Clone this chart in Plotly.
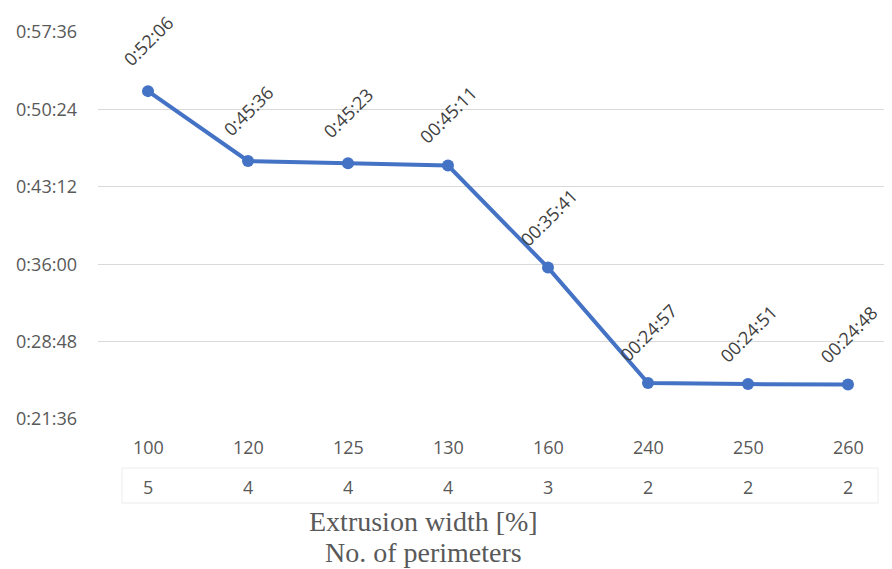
import plotly.graph_objects as go

extrusion_width = ["100", "120", "125", "130", "160", "240", "250", "260"]
perimeters = ["5", "4", "4", "4", "3", "2", "2", "2"]
time_labels = ["0:52:06", "0:45:36", "0:45:23", "00:45:11", "00:35:41", "00:24:57", "00:24:51", "00:24:48"]
y_tick_labels = ["0:21:36", "0:28:48", "0:36:00", "0:43:12", "0:50:24", "0:57:36"]


def to_sec(s):
    h, m, sec = [int(p) for p in s.split(":")]
    return h * 3600 + m * 60 + sec


y_vals = [to_sec(t) for t in time_labels]
y_ticks = [to_sec(t) for t in y_tick_labels]
x_idx = list(range(len(extrusion_width)))

# page body adds an 8px offset; compensate
O = 8
W, H = 892 - O, 569 - O
ml, mr, mt, mb = 98 - O, 0, 32 - O, 150
ph = H - mt - mb

GREY = "#595959"
FONT = "Open Sans"

fig = go.Figure()
fig.add_trace(go.Scatter(
    x=x_idx, y=y_vals, mode="lines+markers",
    line=dict(color="#4472C4", width=4),
    marker=dict(color="#4472C4", size=12),
    hoverinfo="skip", showlegend=False,
))

annotations = []
for i, t in enumerate(time_labels):
    annotations.append(dict(
        x=i, y=y_vals[i], xref="x", yref="y", text=t, showarrow=False,
        textangle=-45, yshift=50, font=dict(family=FONT, size=18, color="#404040"),
    ))


def py(px):
    # px is reference pixel y; convert to paper coordinates
    return (H - mb - (px - O)) / ph


for i in x_idx:
    annotations.append(dict(
        x=i, y=py(447), xref="x", yref="paper", text=extrusion_width[i], showarrow=False,
        font=dict(family=FONT, size=18, color=GREY), yanchor="middle",
    ))
    annotations.append(dict(
        x=i, y=py(487), xref="x", yref="paper", text=perimeters[i], showarrow=False,
        font=dict(family=FONT, size=18, color=GREY), yanchor="middle",
    ))

for txt, yy in [("Extrusion width [%]", 521), ("No. of perimeters", 552)]:
    annotations.append(dict(
        x=(423 - 98) / (892 - 98), y=py(yy), xref="paper", yref="paper", text=txt,
        showarrow=False, yanchor="middle",
        font=dict(family="Liberation Serif", size=28, color=GREY),
    ))

box_col = "#ececec"
shapes = [
    dict(type="line", xref="x", yref="paper", x0=-0.26, x1=7.3, y0=py(468), y1=py(468), line=dict(color=box_col, width=1)),
    dict(type="line", xref="x", yref="paper", x0=-0.26, x1=7.3, y0=py(503), y1=py(503), line=dict(color=box_col, width=1)),
    dict(type="line", xref="x", yref="paper", x0=-0.26, x1=-0.26, y0=py(468), y1=py(503), line=dict(color=box_col, width=1)),
    dict(type="line", xref="x", yref="paper", x0=7.3, x1=7.3, y0=py(468), y1=py(503), line=dict(color=box_col, width=1)),
]

fig.update_layout(
    width=W, height=H,
    margin=dict(l=ml, r=mr, t=mt, b=mb, pad=0),
    paper_bgcolor="white", plot_bgcolor="white",
    annotations=annotations, shapes=shapes,
    xaxis=dict(range=[-0.5, 7.44], showticklabels=False, showgrid=False, zeroline=False, showline=False),
    yaxis=dict(range=[y_ticks[0], y_ticks[-1]], tickvals=y_ticks, ticktext=y_tick_labels,
               showgrid=True, gridcolor="#d9d9d9", gridwidth=1.3, zeroline=False, showline=False,
               tickfont=dict(family=FONT, size=18, color=GREY), ticks="", ticklabelstandoff=20),
)

fig.write_html("out.html")
